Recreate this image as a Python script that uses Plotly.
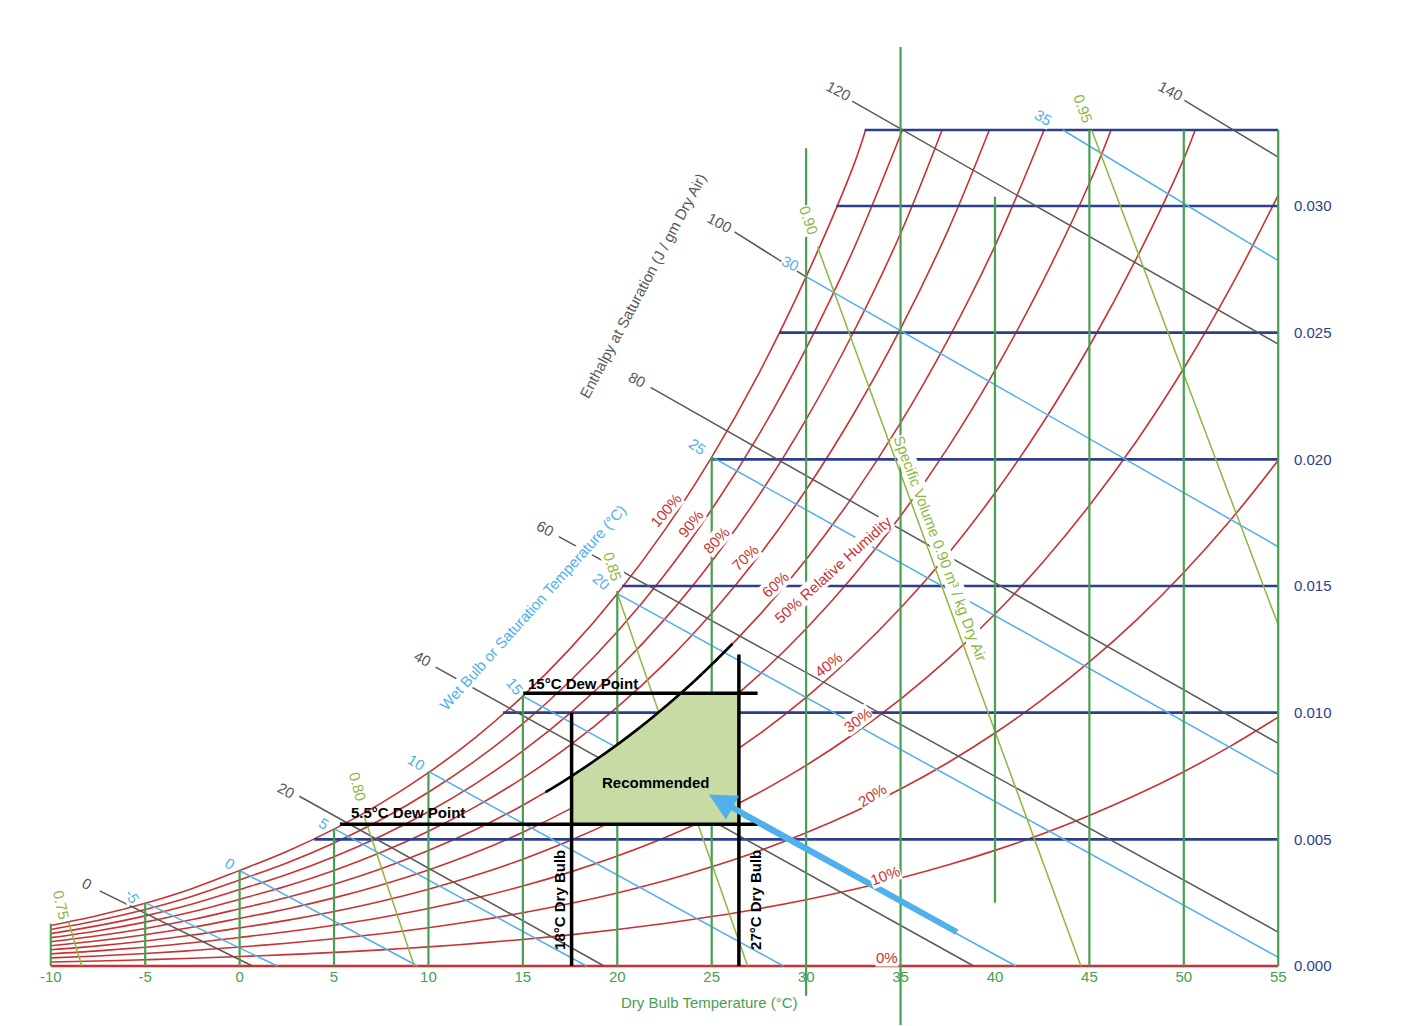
import plotly.graph_objects as go

FONT = "Liberation Sans, Arial, sans-serif"
RED = "#c83232"
NAVY = "#2c3e8c"
GREEN = "#46a050"
BLUE = "#50b0eb"
GRAY = "#585858"
OLIVE = "#8cb840"
FILL = "#c9dba5"

P_ATM = 101.325

# saturation vapour pressure table (kPa) vs dry bulb temperature (deg C)
sat_temp = [-10, -7.5, -5, -2.5, 0, 2.5, 5, 7.5, 10, 12.5, 15, 17.5, 20, 22.5, 25,
            27.5, 30, 32.5, 35, 37.5, 40, 42.5, 45, 47.5, 50, 52.5, 55]
sat_vp_kpa = [0.2600, 0.3236, 0.4018, 0.4964, 0.6112, 0.7314, 0.8726, 1.0368, 1.2282,
              1.4497, 1.7057, 2.0004, 2.3392, 2.7260, 3.1699, 3.6733, 4.2467, 4.8952,
              5.6267, 6.4520, 7.3814, 8.4240, 9.5898, 10.890, 12.344, 13.960, 15.752]

# relative humidity curves and where they leave the top of the chart
rh_levels = [100, 90, 80, 70, 60, 50, 40, 30, 20, 10, 0]
rh_top_T = [33.15, 35.1, 37.2, 39.7, 42.6, 46.15, 50.6, None, None, None, None]
W_TOP = 0.033

# humidity ratio grid lines (start at saturation, end at 55 C)
hum_W = [0.005, 0.010, 0.015, 0.020, 0.025, 0.030, 0.033]
hum_start_T = [3.95, 13.95, 20.25, 24.95, 28.58, 31.6, 33.1]

# dry bulb grid lines
db_T = [-10, -5, 0, 5, 10, 15, 20, 25, 30, 35, 40, 45, 50, 55]
db_bottom_W = [0, 0, 0, 0, 0, 0, 0, 0, -0.00117, -0.00233, 0.0025, 0, 0, 0]
db_top_W = [0.00167, 0.0025, 0.00377, 0.00542, 0.00768, 0.0107, 0.0148, 0.0201,
            0.03228, 0.03628, 0.03037, 0.033, 0.033, 0.033]

# wet bulb lines
wb_values = [-5, 0, 5, 10, 15, 20, 25, 30, 35]
wb_start_T = [-5, 0, 5, 10, 15, 20, 25, 30, 43.6]
wb_start_W = [0.0025, 0.00377, 0.00542, 0.00768, 0.01065, 0.0147, 0.0201, 0.02721, 0.033]
wb_end_T = [2.0, 9.42, 18.37, 28.8, 41.1, 55, 55, 55, 55]
wb_end_W = [0, 0, 0, 0, 0, 0.000345, 0.00756, 0.01655, 0.02784]
wb_label_T = [-5.66, -0.51, 4.48, 9.38, 14.58, 19.17, 24.24, 29.18, 42.56]
wb_label_W = [0.002763, 0.004054, 0.005633, 0.008041, 0.011025, 0.01517, 0.020499, 0.027739, 0.033502]
wb_label_angle = [60, 32, 32, 32, 50, 40, 35, 25, 30]

# enthalpy lines (J / gm dry air)
h_values = [0, 20, 40, 60, 80, 100, 120, 140]
h_start_T = [-7.41, 3.165, 10.38, 16.906, 21.76, 26.206, 32.436, 50.03]
h_start_W = [0.002968, 0.006702, 0.0118, 0.016951, 0.022837, 0.028975, 0.034139, 0.034167]
h_end_T = [0.68, 19.3, 38.87, 55, 55, 30, 55, 55]
h_end_W = [0, 0, 0, 0.00134, 0.00879, 0.0272, 0.024548, 0.031931]
h_label_T = [-8.10, 2.49, 9.69, 16.21, 21.06, 25.40, 31.70, 49.27]
h_label_W = [0.003265, 0.006947, 0.012119, 0.017278, 0.023171, 0.029341, 0.034552, 0.034552]

# specific volume lines (m3 / kg dry air)
sv_values = ["0.75", "0.80", "0.85", "0.90", "0.95"]
sv_start_T = [-9.06, 6.6, 20.0, 30.6, 45.12]
sv_start_W = [0.00175, 0.0059, 0.0147, 0.0284, 0.033]
sv_end_T = [-8.36, 9.25, 26.9, 44.55, 55]
sv_end_W = [0, 0, 0, 0, 0.01346]
sv_label_T = [-9.42, 6.25, 19.72, 30.11, 44.68]
sv_label_W = [0.002408, 0.007078, 0.01579, 0.029448, 0.033857]
sv_label_angle = [78, 75, 72, 70, 70]

# relative humidity labels
rh_label_text = ["100%", "90%", "80%", "70%", "60%", "50% Relative Humidity",
                 "40%", "30%", "20%", "10%", "0%"]
rh_label_T = [22.56, 23.90, 25.21, 26.76, 28.35, 31.42, 31.17, 32.76, 33.47, 34.17, 34.26]
rh_label_W = [0.017973, 0.017448, 0.016816, 0.016133, 0.015079, 0.015671,
              0.011921, 0.009711, 0.00675, 0.003592, 0.000343]
rh_label_angle = [-49, -51, -47, -43, -43, -42, -38, -37, -32, -20, 0]

# recommended zone
comfort_curve_T = [16.2, 17, 18, 19, 20, 21, 22, 23, 24, 25, 26.1]
comfort_curve_W = [0.00686, 0.00722, 0.0077, 0.00821, 0.00874, 0.0093, 0.0099,
                   0.01053, 0.01119, 0.0119, 0.01272]
zone_T = [17.58, 17.58, 18, 19, 20, 21, 22, 23, 23.37, 26.44, 26.44]
zone_W = [0.005594, 0.0075, 0.0077, 0.00821, 0.00874, 0.0093, 0.0099, 0.01053,
          0.010765, 0.010765, 0.005594]
dew_hi_T = [15.02, 27.43]
dew_hi_W = 0.010765
dew_lo_T = [5.31, 27.43]
dew_lo_W = 0.005594
dry_lo_T = 17.58
dry_lo_W = [0, 0.0100]
dry_hi_T = 26.44
dry_hi_W = [0, 0.0123]
arrow_tail = (38.06, 0.0013)
arrow_head = (24.85, 0.00677)

x_ticks = [-10, -5, 0, 5, 10, 15, 20, 25, 30, 35, 40, 45, 50, 55]
x_tick_text = ["-10", "-5", "0", "5", "10", "15", "20", "25", "30", "35", "40", "45", "50", "55"]
y_ticks = [0, 0.005, 0.010, 0.015, 0.020, 0.025, 0.030]
y_tick_text = ["0.000", "0.005", "0.010", "0.015", "0.020", "0.025", "0.030"]


def humidity_ratio(pv):
    return 0.622 * pv / (P_ATM - pv)


fig = go.Figure()


def line(xs, ys, color, width, shape="linear"):
    fig.add_trace(go.Scatter(x=xs, y=ys, mode="lines", hoverinfo="skip",
                             line=dict(color=color, width=width, shape=shape)))


# relative humidity curves
for rh, top in zip(rh_levels, rh_top_T):
    xs, ys = [], []
    for t, p in zip(sat_temp, sat_vp_kpa):
        if top is not None and t > top - 0.4:
            break
        xs.append(t)
        ys.append(humidity_ratio(rh / 100.0 * p))
    if top is not None:
        xs.append(top)
        ys.append(W_TOP)
    line(xs, ys, RED, 1.6 if rh else 2.4, "spline")

# humidity ratio lines
for w, t0 in zip(hum_W, hum_start_T):
    line([t0, 55], [w, w], NAVY, 2.6)

# wet bulb lines
for i in range(len(wb_values)):
    line([wb_start_T[i], wb_end_T[i]], [wb_start_W[i], wb_end_W[i]], BLUE, 1.5)

# enthalpy lines
for i in range(len(h_values)):
    line([h_start_T[i], h_end_T[i]], [h_start_W[i], h_end_W[i]], GRAY, 1.5)

# specific volume lines
for i in range(len(sv_values)):
    line([sv_start_T[i], sv_end_T[i]], [sv_start_W[i], sv_end_W[i]], OLIVE, 1.5)

# dry bulb lines
for t, w0, w1 in zip(db_T, db_bottom_W, db_top_W):
    line([t, t], [w0, w1], GREEN, 2.2)

# recommended zone
fig.add_trace(go.Scatter(x=zone_T, y=zone_W, mode="lines", fill="toself",
                         fillcolor=FILL, line=dict(width=0, color=FILL), hoverinfo="skip"))
line(comfort_curve_T, comfort_curve_W, "black", 2.6, "spline")
line(dew_hi_T, [dew_hi_W, dew_hi_W], "black", 3.5)
line(dew_lo_T, [dew_lo_W, dew_lo_W], "black", 3.5)
line([dry_lo_T, dry_lo_T], dry_lo_W, "black", 3.5)
line([dry_hi_T, dry_hi_T], dry_hi_W, "black", 3.5)

ann = []


def label(text, x, y, color, angle=0, size=15, bold=False, bg=True):
    ann.append(dict(text=("<b>%s</b>" % text) if bold else text, x=x, y=y,
                    xref="x", yref="y", showarrow=False, textangle=angle,
                    font=dict(family=FONT, size=size, color=color),
                    bgcolor="white" if bg else "rgba(0,0,0,0)", borderpad=0))


ann.append(dict(x=arrow_head[0], y=arrow_head[1], ax=arrow_tail[0], ay=arrow_tail[1],
                xref="x", yref="y", axref="x", ayref="y", text="", showarrow=True,
                arrowhead=2, arrowsize=0.9, arrowwidth=6, arrowcolor=BLUE))

for t, x, y, a in zip(rh_label_text, rh_label_T, rh_label_W, rh_label_angle):
    label(t, x, y, RED, a)
for v, x, y, a in zip(wb_values, wb_label_T, wb_label_W, wb_label_angle):
    label(str(v), x, y, BLUE, a)
for v, x, y in zip(h_values, h_label_T, h_label_W):
    label(str(v), x, y, GRAY, 28)
for v, x, y, a in zip(sv_values, sv_label_T, sv_label_W, sv_label_angle):
    label(v, x, y, OLIVE, a)

label("Enthalpy at Saturation (J / gm Dry Air)", 21.36, 0.026851, GRAY, -62)
label("Wet Bulb or Saturation Temperature (°C)", 15.51, 0.014152, BLUE, -48)
label("Specific Volume 0.90 m³ / kg Dry Air", 37.12, 0.016488, OLIVE, 69.5)
label("Dry Bulb Temperature (°C)", 24.86, -0.00146, GREEN, 0, bg=False)
label("Humidity Ratio (gm Water / gm of Dry Air)", 58.9, 0.01741, NAVY, -90, bg=False)

label("15°C Dew Point", 18.16, 0.011171, "black", 0, bold=True, bg=False)
label("5.5°C Dew Point", 8.94, 0.006079, "black", 0, bold=True, bg=False)
label("Recommended", 22.05, 0.007224, "black", 0, bold=True, bg=False)
label("18°C Dry Bulb", 16.91, 0.002605, "black", -90, bold=True, bg=False)
label("27°C Dry Bulb", 27.29, 0.002605, "black", -90, bold=True, bg=False)

# the page body adds an 8px margin, so the figure is laid out 8px smaller
W_PX = 1398
H_PX = 1018
TOP_M = 32
BOT_M = 0
PX_PER_W = 25333.0
ZERO_PX = 958
y_lo = -(H_PX - BOT_M - ZERO_PX) / PX_PER_W
y_hi = (ZERO_PX - TOP_M) / PX_PER_W

fig.update_layout(
    width=W_PX, height=H_PX,
    margin=dict(l=39, r=124, t=TOP_M, b=BOT_M, pad=0),
    paper_bgcolor="white", plot_bgcolor="white",
    showlegend=False, annotations=ann,
    font=dict(family=FONT, size=15),
    xaxis=dict(range=[-10.2, 55.2], tickvals=x_ticks, ticktext=x_tick_text,
               tickfont=dict(color=GREEN, size=15, family=FONT),
               showgrid=False, zeroline=False, showline=False, ticks="",
               anchor="free", position=(H_PX - BOT_M - ZERO_PX) / (H_PX - TOP_M - BOT_M)),
    yaxis=dict(range=[y_lo, y_hi], tickvals=y_ticks, ticktext=y_tick_text, side="right",
               tickfont=dict(color=NAVY, size=15, family=FONT),
               showgrid=False, zeroline=False, showline=False, ticks="",
               ticklabelstandoff=11),
)

fig.write_html("out.html")
